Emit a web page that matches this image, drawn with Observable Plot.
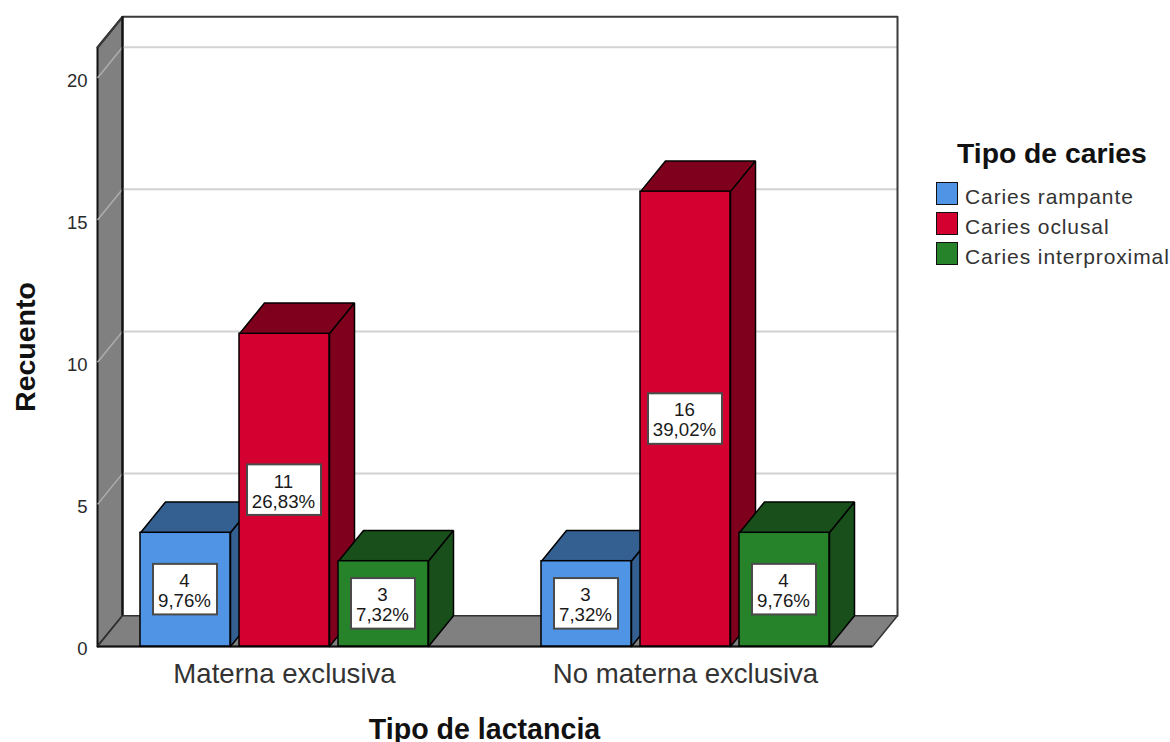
<!DOCTYPE html>
<html>
<head>
<meta charset="utf-8">
<script src="https://cdn.jsdelivr.net/npm/d3@7"></script>
<script src="https://cdn.jsdelivr.net/npm/@observablehq/plot@0.6"></script>
<style>
  html, body { margin: 0; padding: 0; background: #fff; overflow: hidden; }
  #wrap { position: relative; width: 1170px; height: 742px; overflow: hidden; font-family: "Liberation Sans", Arial, sans-serif; }
  #legend { position: absolute; left: 936px; top: 135px; width: 234px; }
  #legend .t { position: absolute; left: 21px; top: 0; font-weight: bold; font-size: 28.3px; line-height: 36px; color: #111; white-space: nowrap; }
  #legend .r { position: absolute; left: 0; height: 22px; width: 234px; }
  #legend .s { position: absolute; left: 0; top: 0; width: 20px; height: 21px; border: 1.5px solid #111; }
  #legend .l { position: absolute; left: 29px; top: 1.5px; font-size: 21px; line-height: 26px; letter-spacing: 0.9px; color: #333; white-space: nowrap; }
</style>
</head>
<body>
<div id="wrap"></div>
<script>
const groups = ["Materna exclusiva", "No materna exclusiva"];
const seriesNames = ["Caries rampante", "Caries oclusal", "Caries interproximal"];
const rampante = [4, 3];
const oclusal = [11, 16];
const interproximal = [3, 4];
const pctRampante = ["9,76%", "7,32%"];
const pctOclusal = ["26,83%", "39,02%"];
const pctInterproximal = ["7,32%", "9,76%"];
const frontColors = ["#5094e6", "#d40030", "#278329"];
const topColors = ["#345f91", "#7f001d", "#184f1a"];
const yTicks = [0, 5, 10, 15, 20];
const groupCenters = [0.4675, 1.47];

// chart geometry in scale units
const xMax = 2, yMax = 21.07;
const pxX = 400, pxY = 28.4;           // pixels per scale unit
const depthX = 25 / pxX, depthY = 30.7 / pxY;
const barW = 90 / pxX;
const barOffsets = [-144 / pxX, -45 / pxX, 54 / pxX];

const values = [rampante, oclusal, interproximal];
const pcts = [pctRampante, pctOclusal, pctInterproximal];
const bars = [];
groups.forEach((g, gi) => values.forEach((vals, si) => {
  const x1 = groupCenters[gi] + barOffsets[si];
  bars.push({group: g, si, x1, x2: x1 + barW, v: vals[gi], pct: pcts[si][gi]});
}));

const poly = (pts) => [...pts, pts[0]].map(([x, y]) => ({x, y}));
const face = (pts, fill, stroke = "#000", strokeWidth = 1.5) =>
  Plot.line(poly(pts), {x: "x", y: "y", fill, stroke, strokeWidth, strokeLinejoin: "miter", curve: "linear"});

const marks = [
  // left wall
  face([[0, 0], [depthX, depthY], [depthX, yMax + depthY], [0, yMax]], "#808080", "#111", 2),
  // floor
  face([[0, 0], [depthX, depthY], [xMax, depthY], [xMax - depthX, 0]], "#808080", "#333", 1.5),
  // back wall gridlines
  Plot.ruleY(yTicks.slice(1), {y: d => d + depthY, x1: depthX, x2: xMax, stroke: "#d2d2d2", strokeWidth: 2}),
  Plot.link(yTicks.slice(1), {x1: 0, y1: d => d, x2: depthX, y2: d => d + depthY, stroke: "#adadad", strokeWidth: 1.5}),
  // back wall frame
  Plot.line([[0, yMax], [depthX, yMax + depthY], [xMax, yMax + depthY], [xMax, depthY]], {x: "0", y: "1", stroke: "#3a3a3a", strokeWidth: 2}),
  Plot.ruleX([depthX], {y1: depthY, y2: yMax + depthY, stroke: "#111", strokeWidth: 2}),
  Plot.ruleY([0], {x1: 0, x2: xMax - depthX, stroke: "#111", strokeWidth: 2}),
];

for (const b of bars) {
  marks.push(
    face([[b.x1, b.v], [b.x1 + depthX, b.v + depthY], [b.x2 + depthX, b.v + depthY], [b.x2, b.v]], topColors[b.si]),
    face([[b.x2, 0], [b.x2 + depthX, depthY], [b.x2 + depthX, b.v + depthY], [b.x2, b.v]], topColors[b.si]),
    Plot.rect([b], {x1: "x1", x2: "x2", y1: () => 0, y2: "v", fill: frontColors[b.si], stroke: "#000", strokeWidth: 1.5})
  );
}

// value label boxes
const boxH = 50.5 / pxY;
marks.push(
  Plot.rect(bars, {
    x1: d => (d.x1 + d.x2) / 2 - (d.pct.length > 5 ? 37 : 32) / pxX,
    x2: d => (d.x1 + d.x2) / 2 + (d.pct.length > 5 ? 37 : 32) / pxX,
    y1: d => d.v / 2 - boxH / 2,
    y2: d => d.v / 2 + boxH / 2,
    fill: "#fff", stroke: "#4a4a4a", strokeWidth: 2
  }),
  Plot.text(bars, {
    x: d => (d.x1 + d.x2) / 2,
    y: d => d.v / 2,
    text: d => `${d.v}\n${d.pct}`,
    fontSize: 18.7, lineHeight: 1.07, fill: "#1a1a1a", dy: 1, dx: -1
  }),
  Plot.axisY({ticks: yTicks, tickSize: 0, tickPadding: 10, fontSize: 18.5, fill: "#2a2a2a", label: null, dy: 3, tickFormat: d => d}),
  Plot.axisX({ticks: groupCenters, tickSize: 0, tickPadding: 17, fontSize: 27.6, fill: "#333", label: null,
              tickFormat: d => groups[groupCenters.indexOf(d)]}),
  Plot.text(["Recuento"], {frameAnchor: "left", textAnchor: "middle", rotate: -90, dx: -72, fontSize: 28.5, fontWeight: "bold", fill: "#111"}),
  Plot.text(["Tipo de lactancia"], {x: () => 387 / pxX, frameAnchor: "bottom", dy: 92, fontSize: 28.6, fontWeight: "bold", fill: "#111"})
);

const chart = Plot.plot({
  width: 1170,
  height: 742,
  marginLeft: 97,
  marginRight: 273,
  marginTop: 47,
  marginBottom: 96,
  style: {background: "transparent", fontFamily: "'Liberation Sans', Arial, sans-serif", overflow: "visible"},
  x: {domain: [0, xMax]},
  y: {domain: [0, yMax]},
  marks
});
const wrap = document.getElementById("wrap");
wrap.appendChild(chart);

const legend = document.createElement("div");
legend.id = "legend";
legend.innerHTML = `<div class="t">Tipo de caries</div>` + seriesNames.map((n, i) =>
  `<div class="r" style="top:${47 + i * 30}px"><div class="s" style="background:${frontColors[i]}"></div><div class="l">${n}</div></div>`).join("");
wrap.appendChild(legend);
</script>
</body>
</html>
